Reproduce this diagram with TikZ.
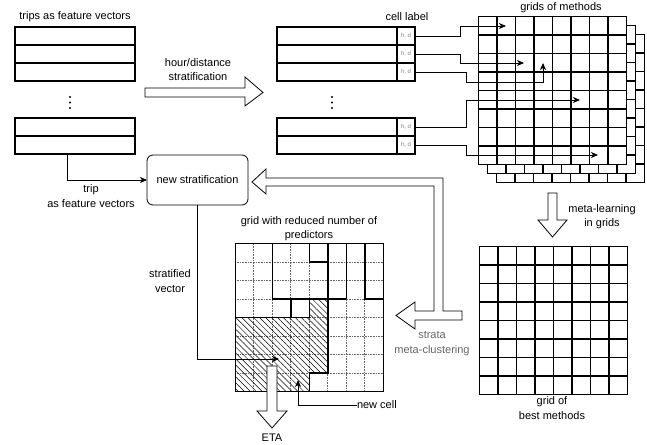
\documentclass[tikz,border=0pt]{standalone}
\usepackage{fontspec}
\setmainfont{Liberation Sans}
\usetikzlibrary{positioning,arrows.meta,patterns.meta}
\tikzstyle{every node}=[font=\fontsize{11}{14.5}\selectfont,inner sep=0pt,outer sep=0pt]
\tikzstyle{vecrow}=[draw=black,line width=1.6pt,minimum width=120pt,minimum height=18pt]
\tikzstyle{labcell}=[draw=black,line width=1.6pt,minimum width=18pt,minimum height=18pt,text=black!50,font=\fontsize{6}{7}\selectfont]
\tikzstyle{stratbox}=[draw=black,line width=0.8pt,rounded corners=6pt,minimum width=101pt,minimum height=50pt]
\tikzstyle{conn}=[-{Stealth[length=7pt,width=6pt,inset=2pt]},line width=0.8pt]
\tikzstyle{hollow}=[draw=black,fill=white,line width=0.8pt,line join=miter]
\tikzstyle{gridline}=[line width=1.5pt]
\tikzstyle{dotline}=[densely dotted,black!60,line width=0.6pt]

\begin{document}
\begin{tikzpicture}[x=1pt,y=1pt]
  \useasboundingbox (0,0) rectangle (647,444);

  \node (tripstitle) at (75,427) {trips as feature vectors};
  \node[vecrow] (t1) at (75,408) {};
  \node[vecrow,below=0pt of t1] (t2) {};
  \node[vecrow,below=0pt of t2] (t3) {};
  \fill (70,347) circle (1.1) (70,341.5) circle (1.1) (70,336) circle (1.1);
  \node[vecrow] (t4) at (75,317) {};
  \node[vecrow,below=0pt of t4] (t5) {};

  \draw[hollow] (145,356) -- (245,356) -- (245,367) -- (263,351.5) -- (245,338) -- (245,347) -- (145,347) -- cycle;
  \node[align=center] (hdstrat) at (198,374.5) {hour/distance\\stratification};

  \node (celllab) at (407,427) {cell label};
  \node[vecrow] (v1) at (337,408) {};
  \node[labcell,right=0pt of v1] (l1) {h, d};
  \node[vecrow,below=0pt of v1] (v2) {};
  \node[labcell,right=0pt of v2] (l2) {h, d};
  \node[vecrow,below=0pt of v2] (v3) {};
  \node[labcell,right=0pt of v3] (l3) {h, d};
  \fill (332,347) circle (1.1) (332,341.5) circle (1.1) (332,336) circle (1.1);
  \node[vecrow] (v4) at (337,317) {};
  \node[labcell,right=0pt of v4] (l4) {h, d};
  \node[vecrow,below=0pt of v4] (v5) {};
  \node[labcell,right=0pt of v5] (l5) {h, d};

  \node (gridstitle) at (561,436) {grids of methods};
  \foreach \gx/\gy in {496.25/261.25,487.25/270.25,478.25/279.25}{
    \draw[gridline,fill=white] (\gx,\gy) rectangle ++(148,148);
    \foreach \k in {1,...,7}{
      \draw[gridline] (\gx+\k*18.5,\gy) -- ++(0,148);
      \draw[gridline] (\gx,\gy+\k*18.5) -- ++(148,0);
    }
  }

  \coordinate (c1) at (506,418);
  \coordinate (c2) at (524,381);
  \coordinate (c3) at (543,381);
  \coordinate (c4) at (580,344);
  \coordinate (c5) at (598,289);
  \draw[conn] (l1.east) -- ++(45,0) |- (c1);
  \draw[conn] (l2.east) -- ++(45,0) |- (c2);
  \draw[conn] (l3.east) -- ++(51,0) -- ++(0,-10) -| (c3);
  \draw[conn] (l4.east) -- ++(51,0) |- (c4);
  \draw[conn] (l5.east) -- ++(51,0) |- (c5);

  \draw[hollow] (548,251) -- (557,251) -- (557,224) -- (567,224) -- (552.5,207) -- (538,224) -- (548,224) -- cycle;
  \node[align=center] (metalearn) at (602,227.5) {meta-learning\\in grids};

  \draw[gridline] (479.25,49.25) rectangle ++(148,148);
  \foreach \k in {1,...,7}{
    \draw[gridline] (479.25+\k*18.5,49.25) -- ++(0,148);
    \draw[gridline] (479.25,49.25+\k*18.5) -- ++(148,0);
  }
  \node[align=center] (bestlab) at (552,36) {grid of\\best methods};

  \draw[hollow] (252,262) -- (266,275) -- (266,266) -- (443,266) -- (443,133) -- (462,133) -- (462,124) -- (415,124) -- (415,115) -- (396,128.5) -- (415,142) -- (415,133) -- (434,133) -- (434,258) -- (266,258) -- (266,250) -- cycle;
  \node[align=center,text=black!60] (stratalab) at (432,100.5) {strata\\meta-clustering};

  \node[stratbox] (ns) at (197.5,264) {new stratification};
  \draw[conn] ([xshift=-8pt]t5.south) |- (ns.west);
  \node[align=center] (tripl) at (91,248) {trip\\as feature vectors};

  \node[align=center] (reducedlab) at (309,215.5) {grid with reduced number of\\predictors};
  \begin{scope}[shift={(235.25pt,52.25pt)},x=18.5pt,y=18.5pt]
    \foreach \k in {1,...,7}{
      \draw[dotline] (\k,0) -- (\k,8);
      \draw[dotline] (0,\k) -- (8,\k);
    }
    \fill[pattern={Lines[angle=-45,distance=4.2pt,line width=0.5pt]}] (0,0) -- (0,4) -- (4,4) -- (4,5) -- (5,5) -- (5,1) -- (4,1) -- (4,0) -- cycle;
    \draw[gridline] (0,0) rectangle (8,8);
    \draw[gridline] (2,8) -- (2,5) -- (6,5);
    \draw[gridline] (4,8) -- (4,7) -- (5,7);
    \draw[gridline] (5,8) -- (5,1) -- (4,1) -- (4,0);
    \draw[gridline] (6,8) -- (6,5);
    \draw[gridline] (7,8) -- (7,5) -- (8,5);
    \draw[gridline] (0,4) -- (4,4) -- (4,5);
    \draw[gridline] (3,5) -- (3,4);
  \end{scope}

  \coordinate (sv) at (279,85);
  \draw[conn] (ns.south) |- (sv);
  \node[align=center] (stratvec) at (170,163) {stratified\\vector};

  \draw[hollow] (267,78) -- (277,78) -- (277,33) -- (287,33) -- (272,16) -- (257,33) -- (267,33) -- cycle;
  \node (eta) at (272,6) {ETA};

  \node[anchor=west] (nc) at (357,39) {new cell};
  \coordinate (ncell) at (298,64);
  \draw[conn] (nc.west) -| (ncell);
\end{tikzpicture}
\end{document}
